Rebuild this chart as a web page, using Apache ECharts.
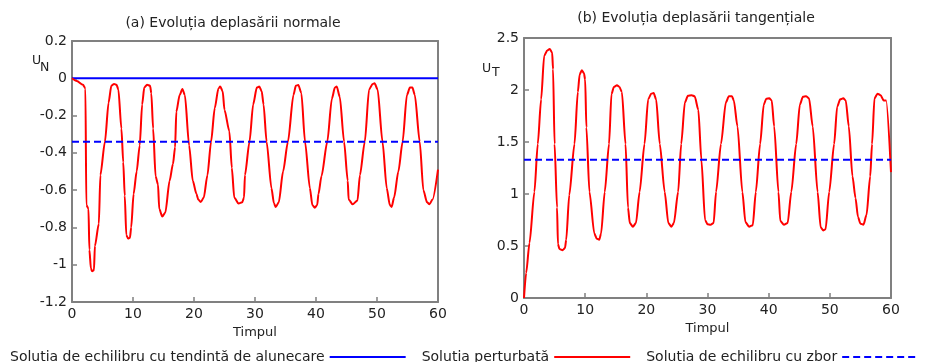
<!DOCTYPE html>
<html>
<head>
<meta charset="utf-8">
<script src="https://cdn.jsdelivr.net/npm/echarts@6/dist/echarts.min.js"></script>
<style>
  html, body { margin: 0; padding: 0; background: #ffffff; }
  #chart { width: 950px; height: 362px; }
</style>
</head>
<body>
<div id="chart"></div>
<script>
// Series names (legend)
const nameSlide = 'Soluția de echilibru cu tendință de alunecare';
const namePerturbed = 'Soluția perturbată';
const nameFlight = 'Soluția de echilibru cu zbor';

// Panel titles and axis labels
const titleNormal = '(a) Evoluția deplasării normale';
const titleTangent = '(b) Evoluția deplasării tangențiale';
const timeLabel = 'Timpul';

// Axis ranges: [min, max, interval]
const timeTicks = [0, 60, 10];
const normalTicks = [-1.2, 0.2, 0.2];
const tangentTicks = [0, 2.5, 0.5];

// Equilibrium levels
const normalSlideLevel = 0;
const normalFlightLevel = -0.34;
const tangentFlightLevel = 1.33;

// (a) normal displacement, perturbed solution
const timeN = [
  0, 0.8, 1.8, 2.2, 2.35, 2.7, 2.85, 3.1, 3.3, 3.6, 3.75, 4.4, 4.65, 5.4, 6.0, 6.45, 6.9, 7.3, 7.6,
  8.1, 8.4, 8.65, 8.9, 9.2, 9.5, 9.7, 10.1, 10.6, 11.1, 11.5, 11.85, 12.3, 12.8, 13.0, 13.3, 13.7,
  14.1, 14.3, 14.8, 15.3, 16.0, 16.55, 16.9, 17.1, 17.65, 18.1, 18.5, 19.2, 19.8, 20.4, 20.7, 21.1,
  21.6, 22.2, 22.8, 23.4, 24.0, 24.3, 24.7, 25.0, 25.8, 26.2, 26.6, 27.3, 27.9, 28.2, 28.35, 29.1,
  29.7, 30.3, 30.7, 31.1, 31.4, 31.9, 32.7, 33.1, 33.4, 33.9, 34.6, 35.4, 36.3, 36.7, 37.1, 37.6,
  38.2, 39.0, 39.4, 39.8, 40.2, 40.4, 40.9, 41.85, 42.6, 43.1, 43.4, 43.9, 44.6, 45.2, 45.35, 46.0,
  46.8, 47.2, 48.0, 48.7, 49.3, 49.6, 50.1, 50.9, 51.6, 52.1, 52.4, 52.8, 53.5, 54.2, 54.9, 55.4,
  55.8, 56.2, 57.0, 57.6, 58.2, 58.6, 59.1, 60
];
const valuesN = [
  0, -0.015, -0.035, -0.055, -0.68, -0.70, -0.92, -1.02, -1.035, -1.03, -0.90, -0.78, -0.52, -0.34, -0.13, -0.04, -0.03, -0.035, -0.06,
  -0.27, -0.45, -0.63, -0.84, -0.86, -0.855, -0.80, -0.62, -0.50, -0.36, -0.14, -0.05, -0.035, -0.04, -0.08, -0.27, -0.525,
  -0.57, -0.70, -0.742, -0.72, -0.55, -0.46, -0.37, -0.18, -0.09, -0.057, -0.09, -0.36, -0.55, -0.62, -0.65, -0.664,
  -0.64, -0.52, -0.34, -0.16, -0.055, -0.044, -0.07, -0.17, -0.285, -0.48, -0.64, -0.672, -0.665, -0.64, -0.52, -0.34,
  -0.14, -0.05, -0.044, -0.07, -0.14, -0.34, -0.59, -0.67, -0.69, -0.665, -0.50, -0.34, -0.09, -0.04, -0.036, -0.08,
  -0.34, -0.59, -0.68, -0.694, -0.68, -0.62, -0.525, -0.34, -0.11, -0.05, -0.044, -0.10, -0.34, -0.55, -0.65, -0.676,
  -0.655, -0.52, -0.34, -0.06, -0.03, -0.027, -0.06, -0.34, -0.59, -0.68, -0.69, -0.64, -0.50, -0.34, -0.09, -0.05,
  -0.05, -0.09, -0.34, -0.60, -0.665, -0.676, -0.65, -0.49
];

// (b) tangential displacement, perturbed solution
const timeT = [
  0, 0.35, 0.9, 1.7, 2.25, 2.8, 3.3, 3.8, 4.2, 4.6, 4.75, 5.0, 5.4, 5.55, 5.8, 6.3, 6.7, 6.9, 7.4,
  8.25, 8.8, 9.1, 9.45, 9.8, 10.0, 10.2, 10.7, 11.5, 11.9, 12.3, 12.6, 13.2, 13.9, 14.3, 14.7, 15.2,
  15.6, 16.0, 16.6, 17.0, 17.3, 17.8, 18.3, 18.9, 19.7, 20.3, 20.8, 21.2, 21.6, 22.2, 23.0, 23.6,
  24.1, 24.5, 25.2, 25.7, 26.3, 26.8, 27.4, 27.9, 28.5, 29.0, 29.6, 30.0, 30.5, 31.0, 31.4, 32.2,
  33.0, 33.5, 34.0, 34.3, 34.9, 35.7, 36.2, 36.8, 37.4, 37.9, 38.6, 39.2, 39.6, 40.1, 40.5, 40.9,
  41.6, 41.9, 42.5, 43.1, 43.7, 44.5, 45.1, 45.6, 46.1, 46.6, 47.2, 48.0, 48.5, 48.9, 49.3, 49.9,
  50.7, 51.2, 51.7, 52.2, 52.6, 53.1, 53.7, 54.2, 54.6, 55.0, 55.5, 56.0, 56.6, 56.9, 57.3, 57.8,
  58.3, 58.8, 59.2, 60
];
const valuesT = [
  0, 0.24, 0.53, 1.02, 1.48, 1.91, 2.33, 2.38, 2.395, 2.36, 2.2, 1.48, 0.87, 0.52, 0.47, 0.46, 0.48, 0.56, 0.99,
  1.48, 1.98, 2.15, 2.19, 2.16, 2.10, 1.64, 1.02, 0.62, 0.57, 0.56, 0.62, 1.02, 1.48, 1.96, 2.03, 2.045,
  2.03, 1.98, 1.48, 0.87, 0.72, 0.686, 0.72, 1.02, 1.48, 1.91, 1.965, 1.97, 1.91, 1.48, 1.02, 0.72,
  0.686, 0.72, 1.02, 1.48, 1.88, 1.945, 1.95, 1.94, 1.81, 1.33, 0.75, 0.71, 0.705, 0.72, 1.02, 1.48,
  1.88, 1.94, 1.94, 1.90, 1.65, 1.02, 0.73, 0.686, 0.70, 1.02, 1.48, 1.86, 1.915, 1.92, 1.90, 1.65,
  1.02, 0.74, 0.705, 0.72, 1.02, 1.48, 1.86, 1.935, 1.94, 1.92, 1.65, 1.02, 0.68, 0.65, 0.66, 1.02,
  1.48, 1.84, 1.91, 1.92, 1.90, 1.65, 1.17, 0.96, 0.78, 0.715, 0.705, 0.80, 1.17, 1.48, 1.92, 1.965,
  1.95, 1.90, 1.90, 1.21
];

const zip = (xs, ys) => xs.map((x, i) => [x, ys[i]]);
const flat = (level) => [[timeTicks[0], level], [timeTicks[1], level]];

const FONT = 'DejaVu Sans, Verdana, sans-serif';
const FRAME = '#808080';
const TEXT = '#222222';
const RED = '#ff0000';
const BLUE = '#0000ff';

const frameLine = { show: true, onZero: false, lineStyle: { color: FRAME, width: 2 } };

function xAxisFor(gridIndex) {
  return {
    gridIndex, type: 'value', position: 'bottom',
    min: timeTicks[0], max: timeTicks[1], interval: timeTicks[2],
    name: timeLabel, nameLocation: 'middle', nameGap: 21,
    nameTextStyle: { fontFamily: FONT, fontSize: 13, color: TEXT },
    axisLine: frameLine,
    axisTick: { show: true, inside: true, length: 5, lineStyle: { color: FRAME, width: 1.5 } },
    axisLabel: { fontFamily: FONT, fontSize: 14, color: TEXT, margin: 5 },
    splitLine: { show: false }
  };
}
function yAxisFor(gridIndex, ticks) {
  return {
    gridIndex, type: 'value', position: 'left',
    min: ticks[0], max: ticks[1], interval: ticks[2],
    axisLine: frameLine,
    axisTick: { show: true, inside: true, length: 5, lineStyle: { color: FRAME, width: 1.5 } },
    axisLabel: { fontFamily: FONT, fontSize: 14, color: TEXT, margin: 5,
      formatter: (v) => String(Math.round(v * 10) / 10) },
    splitLine: { show: false }
  };
}
// plain top / right edges that close each plot box
function edgeAxis(gridIndex, position, ticks) {
  return {
    gridIndex, type: 'value', position,
    min: ticks[0], max: ticks[1], interval: ticks[2],
    axisLine: frameLine, axisTick: { show: false }, axisLabel: { show: false },
    splitLine: { show: false }
  };
}
function lineSeries(name, data, xi, color, dashed, width) {
  return {
    name, type: 'line', xAxisIndex: xi, yAxisIndex: xi, data,
    symbol: 'none', smooth: dashed === null ? 0.25 : false, smoothMonotone: 'x',
    lineStyle: { color, width, type: dashed ? [7, 4] : 'solid' },
    itemStyle: { color }
  };
}

const chart = echarts.init(document.getElementById('chart'), null, { renderer: 'canvas' });
chart.setOption({
  animation: false,
  backgroundColor: '#ffffff',
  grid: [
    { left: 72, right: 512, top: 41, bottom: 60 },
    { left: 524, right: 59, top: 38, bottom: 64 }
  ],
  xAxis: [xAxisFor(0), xAxisFor(1), edgeAxis(0, 'top', timeTicks), edgeAxis(1, 'top', timeTicks)],
  yAxis: [yAxisFor(0, normalTicks), yAxisFor(1, tangentTicks), edgeAxis(0, 'right', normalTicks), edgeAxis(1, 'right', tangentTicks)],
  legend: {
    left: 5, top: 345, align: 'right', itemWidth: 76, itemHeight: 10, itemGap: 15,
    itemStyle: { opacity: 0 },
    lineStyle: { width: 2 },
    textStyle: { fontFamily: FONT, fontSize: 14, color: TEXT },
    data: [nameSlide, namePerturbed, nameFlight]
  },
  graphic: [
    { type: 'text', x: 233, y: 23, style: { text: titleNormal, fontFamily: FONT, fontSize: 14, fill: TEXT, align: 'center', verticalAlign: 'middle' } },
    { type: 'text', x: 696, y: 18, style: { text: titleTangent, fontFamily: FONT, fontSize: 14, fill: TEXT, align: 'center', verticalAlign: 'middle' } },
    { type: 'text', x: 32, y: 61, style: { text: 'U', fontFamily: FONT, fontSize: 12.5, fill: TEXT, align: 'left', verticalAlign: 'middle' } },
    { type: 'text', x: 40, y: 68, style: { text: 'N', fontFamily: FONT, fontSize: 12.5, fill: TEXT, align: 'left', verticalAlign: 'middle' } },
    { type: 'text', x: 482, y: 69, style: { text: 'U', fontFamily: FONT, fontSize: 12.5, fill: TEXT, align: 'left', verticalAlign: 'middle' } },
    { type: 'text', x: 492, y: 73, style: { text: 'T', fontFamily: FONT, fontSize: 12.5, fill: TEXT, align: 'left', verticalAlign: 'middle' } }
  ],
  series: [
    lineSeries(nameSlide, flat(normalSlideLevel), 0, BLUE, false, 2),
    lineSeries(namePerturbed, zip(timeN, valuesN), 0, RED, null, 2),
    lineSeries(nameFlight, flat(normalFlightLevel), 0, BLUE, true, 2),
    lineSeries(namePerturbed, zip(timeT, valuesT), 1, RED, null, 2),
    lineSeries(nameFlight, flat(tangentFlightLevel), 1, BLUE, true, 2)
  ]
});
</script>
</body>
</html>
